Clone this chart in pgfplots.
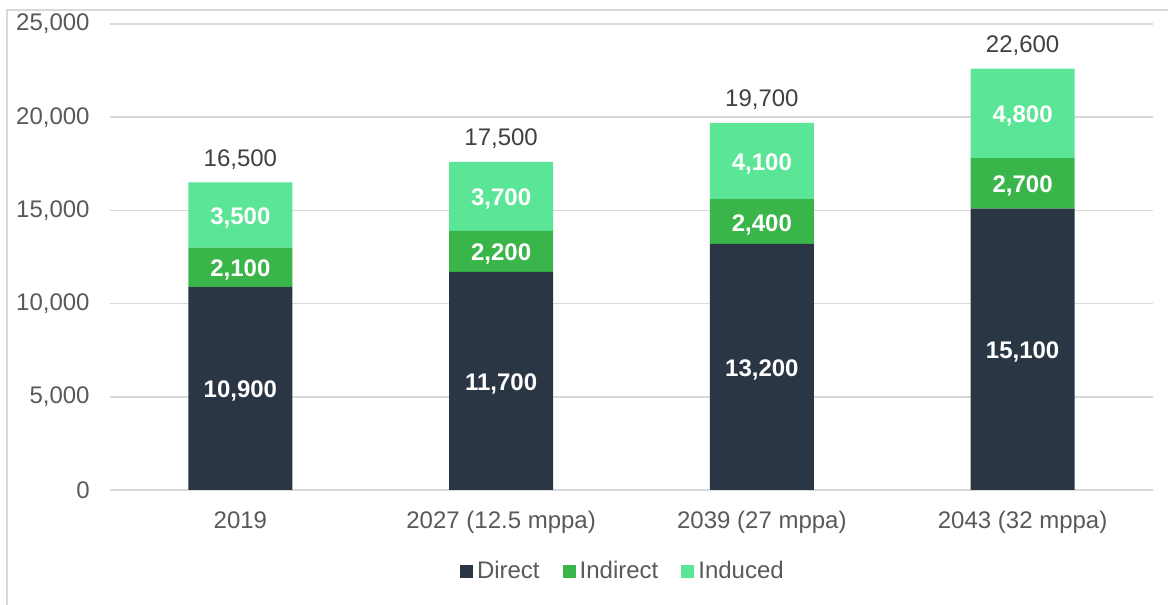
\documentclass[border=0pt]{standalone}
\usepackage{pgfplots}
\pgfplotsset{compat=1.18}
\usepackage{fontspec}
\setmainfont{Liberation Sans}
\definecolor{cDirect}{HTML}{2B3645}
\definecolor{cIndirect}{HTML}{3AB54A}
\definecolor{cInduced}{HTML}{5BE596}
\definecolor{gridc}{HTML}{D9D9D9}
\definecolor{tickc}{HTML}{595959}
\definecolor{totc}{HTML}{404040}
\begin{document}
\begin{tikzpicture}[font=\fontsize{12}{14}\selectfont]
\useasboundingbox (-55pt,-57.5pt) rectangle (529pt,245pt);
\draw[gridc, line width=1pt] (-51.5pt,-57.5pt) -- (-51.5pt,240pt) -- (529pt,240pt);
\begin{axis}[
  at={(0pt,0pt)}, anchor=south west,
  scale only axis, width=521.5pt, height=233pt,
  ybar stacked, bar width=52pt,
  xmin=-0.5, xmax=3.5, ymin=0, ymax=25000,
  xtick={0,1,2,3},
  xticklabels={2019, 2027 (12.5 mppa), 2039 (27 mppa), 2043 (32 mppa)},
  ytick={0,5000,10000,15000,20000,25000},
  scaled y ticks=false,
  /pgf/number format/fixed, /pgf/number format/precision=0,
  /pgf/number format/1000 sep={,}, /pgf/number format/assume math mode=true,
  axis line style={draw=none}, major tick length=0pt,
  ymajorgrids, grid style={gridc, line width=0.75pt},
  tick label style={font=\fontsize{12}{14}\selectfont, text=tickc},
  yticklabel style={anchor=east, inner sep=0pt, xshift=-10pt},
  xticklabel style={anchor=base, inner sep=0pt, yshift=-19.2pt},
  legend columns=3,
  legend style={at={(0.4927,-0.174)}, anchor=center, draw=none, fill=none,
    font=\fontsize{12}{14}\selectfont, text=tickc,
    /tikz/every even column/.append style={column sep=9.5pt}},
  legend image code/.code={\fill[#1] (0pt,-3.25pt) rectangle (6.5pt,3.25pt);},
  every node near coord/.append style={text=white, yshift=-1.5pt, font=\fontsize{12}{14}\selectfont\bfseries},
]
\addplot[fill=cDirect, draw=none, nodes near coords, point meta=rawy]
  coordinates {(0,10900) (1,11700) (2,13200) (3,15100)};
\addlegendentry{Direct}
\addplot[fill=cIndirect, draw=none, nodes near coords, point meta=rawy]
  coordinates {(0,2100) (1,2200) (2,2400) (3,2700)};
\addlegendentry{Indirect}
\addplot[fill=cInduced, draw=none, nodes near coords, point meta=rawy]
  coordinates {(0,3500) (1,3700) (2,4100) (3,4800)};
\addlegendentry{Induced}
\end{axis}
\begin{axis}[
  at={(0pt,0pt)}, anchor=south west,
  scale only axis, width=521.5pt, height=233pt,
  xmin=-0.5, xmax=3.5, ymin=0, ymax=25000,
  hide axis,
]
\addplot[only marks, mark=none, nodes near coords, point meta=explicit symbolic,
  every node near coord/.append style={anchor=center, yshift=11.5pt, text=totc, font=\fontsize{12}{14}\selectfont}]
  coordinates {(0,16500) [16{,}500] (1,17600) [17{,}500] (2,19700) [19{,}700] (3,22600) [22{,}600]};
\end{axis}
\end{tikzpicture}
\end{document}
